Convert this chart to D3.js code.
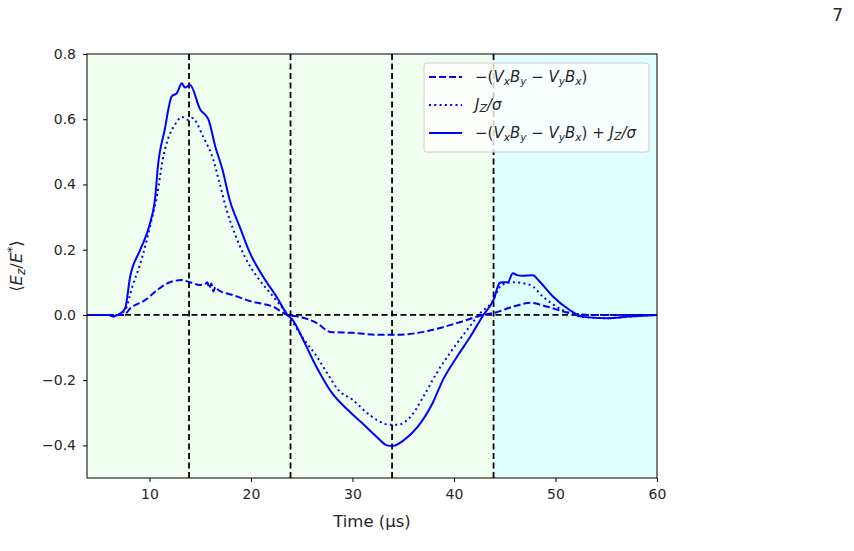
<!DOCTYPE html>
<html>
<head>
<meta charset="utf-8">
<script src="https://d3js.org/d3.v7.min.js"></script>
<style>
  body { margin: 0; background: #fff; }
  text { font-family: "DejaVu Sans", sans-serif; fill: #262626; }
</style>
</head>
<body>
<svg id="chart" width="854" height="551"></svg>
<script>
// time (µs) and <Ez/E*> values
var tTotal = [3.85, 6.0, 6.4, 6.9, 7.6, 8.1, 9.1, 10.05, 10.6, 10.8, 11.5, 12.2, 12.7, 13.2, 13.5, 14.0, 15.0, 15.8, 16.5, 17.2, 17.9, 18.9, 19.9, 21.2, 22.6, 23.6, 24.1, 25.3, 26.1, 27.0, 28.0, 29.5, 30.9, 32.4, 33.4, 33.9, 35.1, 36.4, 37.9, 38.9, 40.3, 41.6, 42.9, 43.9, 44.5, 44.8, 45.3, 45.8, 46.2, 46.7, 47.8, 48.3, 49.8, 51.4, 52.7, 55.1, 57.3, 60];
var vTotal = [0, 0, -0.005, 0, 0.02, 0.117, 0.2, 0.28, 0.37, 0.445, 0.567, 0.67, 0.68, 0.71, 0.697, 0.705, 0.63, 0.6, 0.515, 0.445, 0.353, 0.27, 0.19, 0.117, 0.052, 0, -0.015, -0.086, -0.138, -0.19, -0.24, -0.29, -0.33, -0.374, -0.4, -0.402, -0.383, -0.344, -0.27, -0.2, -0.128, -0.067, 0, 0.046, 0.098, 0.1, 0.1, 0.128, 0.122, 0.12, 0.122, 0.107, 0.055, 0.015, -0.006, -0.01, -0.005, 0];

var tJ = [3.85, 6.0, 6.4, 6.9, 7.6, 8.3, 9.3, 10.2, 10.8, 11.3, 11.8, 12.5, 13.2, 13.8, 14.2, 15.3, 16.3, 16.9, 17.6, 18.4, 19.4, 20.6, 21.9, 23.5, 25.1, 26.5, 27.5, 28.6, 30.0, 31.7, 33.7, 34.4, 35.7, 37.0, 38.3, 39.6, 41.3, 42.6, 43.7, 44.7, 45.8, 47.5, 48.8, 50.7, 52.7, 55.1, 57.3, 60];
var vJ = [0, 0, -0.005, 0, 0.015, 0.085, 0.178, 0.29, 0.374, 0.475, 0.537, 0.583, 0.607, 0.598, 0.604, 0.546, 0.475, 0.405, 0.322, 0.25, 0.178, 0.117, 0.067, 0.006, -0.07, -0.128, -0.178, -0.23, -0.26, -0.307, -0.337, -0.337, -0.313, -0.25, -0.178, -0.117, -0.046, 0.006, 0.037, 0.092, 0.1, 0.092, 0.055, 0.015, -0.006, -0.01, -0.005, 0];

var tVB = [3.85, 7.5, 8.1, 9.6, 10.8, 12.0, 13.2, 14.0, 15.0, 15.5, 15.7, 15.9, 16.1, 16.3, 16.5, 16.8, 18.2, 20.2, 22.2, 23.6, 24.8, 26.5, 27.8, 30.0, 32.7, 34.4, 37.0, 40.3, 42.9, 43.9, 45.8, 47.5, 49.2, 51.4, 53.4, 60];
var vVB = [0, 0, 0.02, 0.046, 0.077, 0.1, 0.107, 0.1, 0.092, 0.095, 0.1, 0.082, 0.096, 0.072, 0.086, 0.076, 0.061, 0.04, 0.025, 0, -0.006, -0.025, -0.052, -0.055, -0.061, -0.061, -0.052, -0.025, 0, 0.006, 0.025, 0.037, 0.025, 0.006, 0, 0];

var phaseLines = [13.9, 23.9, 33.9, 43.9];
var regions = [[3.85, 43.9, "#f0fff0"], [43.9, 60, "#e0ffff"]];
var xTicks = [10, 20, 30, 40, 50, 60];
var yTicks = [-0.4, -0.2, 0.0, 0.2, 0.4, 0.6, 0.8];

var svg = d3.select("#chart");
var pLeft = 87, pRight = 657, pTop = 54, pBottom = 478;

var x = d3.scaleLinear().domain([3.85, 60]).range([pLeft, pRight]);
var y = d3.scaleLinear().domain([-0.5, 0.8]).range([pBottom, pTop]);

svg.append("defs").append("clipPath").attr("id", "clip")
  .append("rect").attr("x", pLeft).attr("y", pTop)
  .attr("width", pRight - pLeft).attr("height", pBottom - pTop);

var plot = svg.append("g").attr("clip-path", "url(#clip)");

plot.selectAll("rect.bg").data(regions).enter().append("rect")
  .attr("x", d => x(d[0])).attr("width", d => x(d[1]) - x(d[0]))
  .attr("y", pTop).attr("height", pBottom - pTop)
  .attr("fill", d => d[2]);

plot.selectAll("line.phase").data(phaseLines).enter().append("line")
  .attr("x1", d => x(d)).attr("x2", d => x(d))
  .attr("y1", pTop).attr("y2", pBottom)
  .attr("stroke", "#000").attr("stroke-width", 1.8).attr("stroke-dasharray", "6,3.5");

plot.append("line")
  .attr("x1", pLeft).attr("x2", pRight).attr("y1", y(0)).attr("y2", y(0))
  .attr("stroke", "#000").attr("stroke-width", 1.8).attr("stroke-dasharray", "6,3.5");

var line = d3.line().curve(d3.curveMonotoneX).x(d => x(d[0])).y(d => y(d[1]));
function series(ts, vs) { return ts.map((t, i) => [t, vs[i]]); }

plot.append("path").attr("d", line(series(tVB, vVB)))
  .attr("fill", "none").attr("stroke", "#0000ff").attr("stroke-width", 2)
  .attr("stroke-dasharray", "7,3");
plot.append("path").attr("d", line(series(tJ, vJ)))
  .attr("fill", "none").attr("stroke", "#0000ff").attr("stroke-width", 2)
  .attr("stroke-dasharray", "2,3.3");
plot.append("path").attr("d", line(series(tTotal, vTotal)))
  .attr("fill", "none").attr("stroke", "#0000ff").attr("stroke-width", 2);

// axes
var xAxis = svg.append("g").attr("transform", "translate(0," + pBottom + ")")
  .call(d3.axisBottom(x).tickValues(xTicks).tickFormat(d3.format("d")).tickSize(4).tickPadding(7));
var yAxis = svg.append("g").attr("transform", "translate(" + pLeft + ",0)")
  .call(d3.axisLeft(y).tickValues(yTicks).tickFormat(d => d3.format(".1f")(d).replace("-", "\u2212")).tickSize(4).tickPadding(7));
svg.append("rect").attr("x", pLeft).attr("y", pTop).attr("width", pRight - pLeft).attr("height", pBottom - pTop)
  .attr("fill", "none").attr("stroke", "#000").attr("stroke-width", 1);
[xAxis, yAxis].forEach(g => {
  g.select(".domain").remove();
  g.selectAll("line").attr("stroke", "#000");
  g.selectAll("text").attr("font-size", 14).attr("font-family", "DejaVu Sans").attr("fill", "#262626");
});

svg.append("text").attr("x", (pLeft + pRight) / 2).attr("y", 527)
  .attr("text-anchor", "middle").attr("font-size", 16.5).text("Time (\u03bcs)");

var yl = svg.append("text").attr("transform", "translate(22," + ((pTop + pBottom) / 2) + ") rotate(-90)")
  .attr("text-anchor", "middle").attr("font-size", 16.5);
yl.append("tspan").text("\u27e8");
yl.append("tspan").attr("font-style", "italic").text("E");
yl.append("tspan").attr("font-style", "italic").attr("font-size", 12).attr("dy", 3).text("z");
yl.append("tspan").attr("dy", -3).text("/");
yl.append("tspan").attr("font-style", "italic").text("E");
yl.append("tspan").attr("font-size", 12).attr("dy", -6).text("*");
yl.append("tspan").attr("dy", 6).text("\u27e9");

// legend
var lg = svg.append("g");
lg.append("rect").attr("x", 424).attr("y", 63).attr("width", 225).attr("height", 89)
  .attr("rx", 3).attr("fill", "#fff").attr("fill-opacity", 0.8).attr("stroke", "#ccc");
var entries = [
  {dash: "7,3", parts: "vb"},
  {dash: "2,3.3", parts: "j"},
  {dash: null, parts: "both"}
];
function addVB(t) {
  t.append("tspan").text("\u2212(");
  t.append("tspan").attr("font-style", "italic").text("V");
  t.append("tspan").attr("font-style", "italic").attr("font-size", 10.5).attr("dy", 3).text("x");
  t.append("tspan").attr("font-style", "italic").attr("dy", -3).text("B");
  t.append("tspan").attr("font-style", "italic").attr("font-size", 10.5).attr("dy", 3).text("y");
  t.append("tspan").attr("dy", -3).text(" \u2212 ");
  t.append("tspan").attr("font-style", "italic").text("V");
  t.append("tspan").attr("font-style", "italic").attr("font-size", 10.5).attr("dy", 3).text("y");
  t.append("tspan").attr("font-style", "italic").attr("dy", -3).text("B");
  t.append("tspan").attr("font-style", "italic").attr("font-size", 10.5).attr("dy", 3).text("x");
  t.append("tspan").attr("dy", -3).text(")");
}
function addJ(t) {
  t.append("tspan").attr("font-style", "italic").text("J");
  t.append("tspan").attr("font-style", "italic").attr("font-size", 11).attr("dy", 2).text("Z");
  t.append("tspan").attr("font-style", "italic").attr("dy", -2).text("/\u03c3");
}
entries.forEach((e, i) => {
  var yy = 77 + i * 28;
  var l = lg.append("line").attr("x1", 429).attr("x2", 462).attr("y1", yy).attr("y2", yy)
    .attr("stroke", "#0000ff").attr("stroke-width", 2);
  if (e.dash) l.attr("stroke-dasharray", e.dash);
  var t = lg.append("text").attr("x", 475).attr("y", yy + 5).attr("font-size", 15);
  if (e.parts === "vb") addVB(t);
  else if (e.parts === "j") addJ(t);
  else { addVB(t); t.append("tspan").text(" + "); addJ(t); }
});

// page number
svg.append("text").attr("x", 843).attr("y", 21).attr("text-anchor", "end")
  .attr("font-family", "Liberation Serif").attr("font-size", 17).attr("fill", "#222").text("7");
</script>
</body>
</html>
